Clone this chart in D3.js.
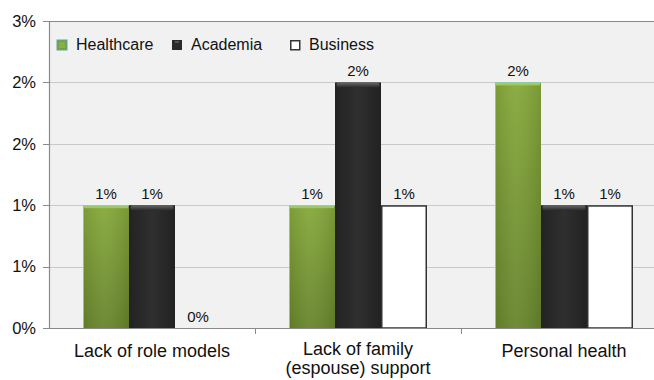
<!DOCTYPE html>
<html>
<head>
<meta charset="utf-8">
<script src="https://cdn.jsdelivr.net/npm/d3@7"></script>
<style>
  html, body { margin: 0; padding: 0; background: #ffffff; }
  svg { display: block; font-family: "Liberation Sans", Arial, Helvetica, sans-serif; }
</style>
</head>
<body>
<svg id="chart" width="654" height="380"></svg>
<script>
// Share of respondents citing each barrier, by sector (fractions)
const categories = ["Lack of role models", "Lack of family (espouse) support", "Personal health"];
const seriesNames = ["Healthcare", "Academia", "Business"];
const healthcare = [0.012, 0.012, 0.024];
const academia   = [0.012, 0.024, 0.012];
const business   = [0.000, 0.012, 0.012];
const yTicks = [0, 0.006, 0.012, 0.018, 0.024, 0.030];

const seriesValues = [healthcare, academia, business];
const rows = categories.map((c, i) => ({
  category: c,
  values: seriesNames.map((s, j) => ({ series: s, value: seriesValues[j][i] }))
}));

const svg = d3.select("#chart");
const W = 654, H = 380;
const plot = { left: 49, top: 21, right: 667, bottom: 328 };

const fmt = d3.format(".0%");

const x0 = d3.scaleBand().domain(categories).range([plot.left, plot.right]).padding(0);
const groupPad = 34;
const x1 = d3.scaleBand().domain(seriesNames)
  .range([groupPad, x0.bandwidth() - groupPad]).padding(0);
const y = d3.scaleLinear().domain([0, 0.03]).range([plot.bottom, plot.top]);

// gradients for bar fills
const defs = svg.append("defs");
const gGreen = defs.append("linearGradient").attr("id", "gGreen")
  .attr("x1", 0).attr("y1", 0).attr("x2", 0).attr("y2", 1);
gGreen.append("stop").attr("offset", "0%").attr("stop-color", "#86a83b");
gGreen.append("stop").attr("offset", "100%").attr("stop-color", "#67852c");
const gGreenH = defs.append("linearGradient").attr("id", "gGreenH")
  .attr("x1", 0).attr("y1", 0).attr("x2", 1).attr("y2", 0);
gGreenH.append("stop").attr("offset", "0%").attr("stop-color", "#000").attr("stop-opacity", 0.08);
gGreenH.append("stop").attr("offset", "45%").attr("stop-color", "#fff").attr("stop-opacity", 0.05);
gGreenH.append("stop").attr("offset", "100%").attr("stop-color", "#000").attr("stop-opacity", 0.1);
const gBlack = defs.append("linearGradient").attr("id", "gBlack")
  .attr("x1", 0).attr("y1", 0).attr("x2", 1).attr("y2", 0);
gBlack.append("stop").attr("offset", "0%").attr("stop-color", "#232323");
gBlack.append("stop").attr("offset", "50%").attr("stop-color", "#2f2f2f");
gBlack.append("stop").attr("offset", "100%").attr("stop-color", "#222222");
const gCap = defs.append("linearGradient").attr("id", "gCap")
  .attr("x1", 0).attr("y1", 0).attr("x2", 0).attr("y2", 1);
gCap.append("stop").attr("offset", "0%").attr("stop-color", "#6a6a6a");
gCap.append("stop").attr("offset", "100%").attr("stop-color", "#2b2b2b");

// plot area background
svg.append("rect")
  .attr("x", plot.left).attr("y", plot.top)
  .attr("width", W - plot.left).attr("height", plot.bottom - plot.top)
  .attr("fill", "#f1f1f1");

// gridlines
svg.append("g").selectAll("line").data(yTicks.filter(t => t > 0 && t < 0.03)).join("line")
  .attr("x1", plot.left).attr("x2", W)
  .attr("y1", d => Math.round(y(d)) + 0.5).attr("y2", d => Math.round(y(d)) + 0.5)
  .attr("stroke", "#c9c9c9").attr("stroke-width", 1);

// top border of the plot area
svg.append("line")
  .attr("x1", plot.left).attr("x2", W)
  .attr("y1", plot.top + 0.5).attr("y2", plot.top + 0.5)
  .attr("stroke", "#8a8a8a").attr("stroke-width", 1.2);

// bars
const groups = svg.append("g").selectAll("g").data(rows).join("g")
  .attr("transform", d => `translate(${x0(d.category)},0)`);

groups.each(function(row) {
  const g = d3.select(this);
  row.values.forEach(v => {
    const bx = x1(v.series), bw = x1.bandwidth();
    const top = y(v.value), h = y(0) - y(v.value);
    if (h <= 0) return;
    if (v.series === "Healthcare") {
      g.append("rect").attr("x", bx).attr("y", top).attr("width", bw).attr("height", h)
        .attr("fill", "url(#gGreen)");
      g.append("rect").attr("x", bx).attr("y", top).attr("width", bw).attr("height", h)
        .attr("fill", "url(#gGreenH)");
      g.append("rect").attr("x", bx + 1).attr("y", top).attr("width", bw - 2).attr("height", 3)
        .attr("fill", "#a2c957");
      g.append("line").attr("x1", bx + 0.5).attr("x2", bx + 0.5).attr("y1", top).attr("y2", y(0))
        .attr("stroke", "#7fc3cc").attr("stroke-width", 1);
      g.append("line").attr("x1", bx).attr("x2", bx + bw).attr("y1", top + 0.5).attr("y2", top + 0.5)
        .attr("stroke", "#86d0d6").attr("stroke-width", 1);
    } else if (v.series === "Academia") {
      g.append("rect").attr("x", bx).attr("y", top).attr("width", bw).attr("height", h)
        .attr("fill", "url(#gBlack)");
      g.append("rect").attr("x", bx + 1.5).attr("y", top).attr("width", bw - 3).attr("height", 5)
        .attr("rx", 2.5).attr("fill", "url(#gCap)");
    } else {
      g.append("rect").attr("x", bx + 0.75).attr("y", top + 0.75)
        .attr("width", bw - 1.5).attr("height", h - 0.75)
        .attr("fill", "#ffffff").attr("stroke", "#333333").attr("stroke-width", 1.5);
    }
  });
  // value labels
  g.selectAll("text.val").data(row.values).join("text")
    .attr("class", "val")
    .attr("x", v => x1(v.series) + x1.bandwidth() / 2)
    .attr("y", v => y(v.value) - 6)
    .attr("text-anchor", "middle")
    .attr("font-size", 15)
    .attr("fill", "#111")
    .text(v => fmt(v.value));
});

// y axis
const yAxis = svg.append("g");
yAxis.append("line")
  .attr("x1", plot.left + 0.5).attr("x2", plot.left + 0.5)
  .attr("y1", plot.top).attr("y2", plot.bottom + 1)
  .attr("stroke", "#8a8a8a").attr("stroke-width", 1.2);
yAxis.selectAll("line.tick").data(yTicks).join("line")
  .attr("class", "tick")
  .attr("x1", plot.left - 6).attr("x2", plot.left)
  .attr("y1", d => Math.round(y(d)) + 0.5).attr("y2", d => Math.round(y(d)) + 0.5)
  .attr("stroke", "#8a8a8a").attr("stroke-width", 1);
yAxis.selectAll("text").data(yTicks).join("text")
  .attr("x", 36).attr("y", d => y(d))
  .attr("dy", "0.35em")
  .attr("text-anchor", "end")
  .attr("font-size", 16.5)
  .attr("fill", "#111")
  .text(d => fmt(d));

// x axis
const xAxis = svg.append("g");
xAxis.append("line")
  .attr("x1", plot.left).attr("x2", W)
  .attr("y1", plot.bottom + 0.5).attr("y2", plot.bottom + 0.5)
  .attr("stroke", "#8a8a8a").attr("stroke-width", 1.2);
xAxis.selectAll("line.tick").data(categories.slice(1)).join("line")
  .attr("class", "tick")
  .attr("x1", d => x0(d) + 0.5).attr("x2", d => x0(d) + 0.5)
  .attr("y1", plot.bottom).attr("y2", plot.bottom + 6)
  .attr("stroke", "#8a8a8a").attr("stroke-width", 1);

const catLabels = xAxis.selectAll("text").data(categories).join("text")
  .attr("x", d => x0(d) + x0.bandwidth() / 2)
  .attr("y", 357)
  .attr("text-anchor", "middle")
  .attr("font-size", 18)
  .attr("fill", "#111");

// wrap category names to the band width
catLabels.each(function(d) {
  const text = d3.select(this);
  const words = d.split(" ");
  const maxW = x0.bandwidth() - 20;
  let line = [];
  let lineNo = 0;
  let tspan = text.append("tspan").attr("x", text.attr("x")).attr("dy", 0);
  words.forEach(w => {
    line.push(w);
    tspan.text(line.join(" "));
    if (tspan.node().getComputedTextLength() > maxW && line.length > 1) {
      line.pop();
      tspan.text(line.join(" "));
      line = [w];
      lineNo++;
      tspan = text.append("tspan").attr("x", text.attr("x")).attr("dy", 19).text(w);
    }
  });
  if (lineNo > 0) text.attr("y", 355);
});

// legend
const legendX = [57, 172, 290];
const legend = svg.append("g").selectAll("g").data(seriesNames).join("g")
  .attr("transform", (d, i) => `translate(${legendX[i]},40)`);
legend.each(function(d) {
  const g = d3.select(this);
  if (d === "Healthcare") {
    g.append("rect").attr("width", 10).attr("height", 10).attr("fill", "#76a03a")
      .attr("stroke", "#5fa8a8").attr("stroke-width", 1);
    g.append("rect").attr("x", 2).attr("y", 2).attr("width", 6).attr("height", 6).attr("fill", "#86b043");
  } else if (d === "Academia") {
    g.append("rect").attr("width", 10).attr("height", 10).attr("fill", "#2a2a2a");
    g.append("rect").attr("x", 3).attr("y", 1).attr("width", 4).attr("height", 2).attr("fill", "#555");
  } else {
    g.append("rect").attr("x", 0.75).attr("y", 0.75).attr("width", 9).attr("height", 9)
      .attr("fill", "#fff").attr("stroke", "#333").attr("stroke-width", 1.5);
  }
  g.append("text").attr("x", 19).attr("y", 9.5)
    .attr("font-size", 16).attr("fill", "#111").text(d);
});
</script>
</body>
</html>
